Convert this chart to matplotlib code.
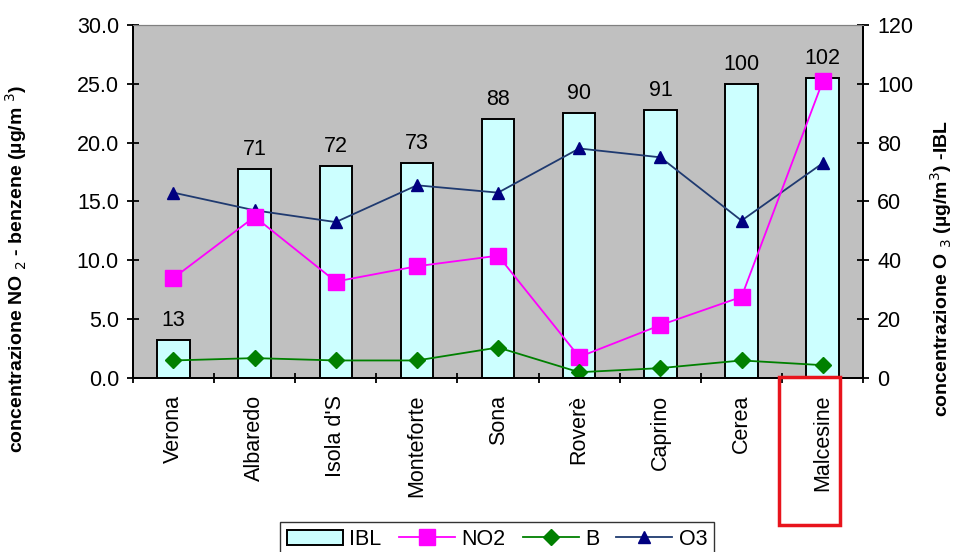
import matplotlib
matplotlib.use('Agg')
import matplotlib.pyplot as plt
import numpy as np

plt.rcParams['font.family'] = ['Liberation Sans', 'DejaVu Sans']

# dati
stazioni = ['Verona', 'Albaredo', "Isola d'S", 'Monteforte', 'Sona',
            'Roverè', 'Caprino', 'Cerea', 'Malcesine']
ibl = [13, 71, 72, 73, 88, 90, 91, 100, 102]
no2 = [8.5, 13.7, 8.2, 9.5, 10.4, 1.8, 4.5, 6.9, 25.2]
benzene = [1.5, 1.7, 1.5, 1.5, 2.6, 0.5, 0.85, 1.5, 1.1]
o3 = [63, 57, 53, 65.5, 63, 78, 75, 53.5, 73]

x = np.arange(len(stazioni))
fs = 15.5

fig = plt.figure(figsize=(9.56, 5.52), dpi=100)
ax1 = fig.add_axes([0.139, 0.315, 0.764, 0.64])
ax2 = ax1.twinx()

# sfondo grigio sull'asse destro, linee NO2/B sopra le barre
ax1.set_zorder(ax2.get_zorder() + 1)
ax1.patch.set_visible(False)
ax2.patch.set_visible(True)
ax2.patch.set_facecolor('#c0c0c0')

bars = ax2.bar(x, ibl, width=0.4, color='#ccffff', edgecolor='black',
               linewidth=1.4, label='IBL')
for xi, v in zip(x, ibl):
    ax2.text(xi, v + 3, str(v), ha='center', va='bottom', fontsize=fs)
l_o3, = ax2.plot(x, o3, color='#1f3a70', marker='^', markersize=8,
                 markerfacecolor='#000080', markeredgecolor='#000080',
                 linewidth=1.3, label='O3')

l_no2, = ax1.plot(x, no2, color='#ff00ff', marker='s', markersize=11,
                  linewidth=1.3, label='NO2')
l_b, = ax1.plot(x, benzene, color='#008000', marker='D', markersize=8,
                linewidth=1.3, label='B')

ax1.set_xlim(-0.5, len(stazioni) - 0.5)
ax1.set_ylim(0, 30)
ax2.set_ylim(0, 120)
ax1.set_yticks(np.arange(0, 31, 5))
ax1.set_yticklabels([f'{v:.1f}' for v in np.arange(0, 31, 5)])
ax2.set_yticks(np.arange(0, 121, 20))

ax1.set_xticks(x)
ax1.set_xticklabels(stazioni, rotation=90, fontsize=fs)
ax1.set_xticks(np.arange(-0.5, len(stazioni)), minor=True)
ax1.tick_params(axis='x', which='major', length=0, pad=12)
ax1.tick_params(axis='x', which='minor', length=7, width=1.3, direction='inout')
ax1.tick_params(axis='y', labelsize=fs, length=8, width=1.3,
                direction='inout', pad=6)
ax2.tick_params(axis='y', labelsize=fs, length=8, width=1.3,
                direction='inout', pad=6)

for ax in (ax1, ax2):
    for s in ('left', 'right', 'bottom'):
        ax.spines[s].set_linewidth(1.4)
    ax.spines['top'].set_color('#808080')

ax1.set_ylabel('concentrazione NO $_2$ - benzene (µg/m $^3$)',
               fontsize=14, fontweight='bold')
ax2.set_ylabel('concentrazione O $_3$ (µg/m$^3$) -IBL',
               fontsize=14, fontweight='bold', rotation=90)
ax1.yaxis.set_label_coords(-0.142, 0.31)
ax2.yaxis.set_label_coords(1.089, 0.31)

fig.legend(handles=[bars, l_no2, l_b, l_o3], loc='upper center',
           bbox_to_anchor=(0.52, 0.054), ncol=4, fontsize=fs,
           frameon=True, fancybox=False, edgecolor='black',
           handlelength=2.6, columnspacing=0.8, handletextpad=0.3,
           borderaxespad=0, borderpad=0.3)

# riquadro rosso attorno a Malcesine
fig.patches.append(plt.Rectangle((0.815, 0.049), 0.064, 0.268,
                                 transform=fig.transFigure, fill=False,
                                 edgecolor='#e8141c', linewidth=2.5))

fig.savefig('out.png', dpi=100)
